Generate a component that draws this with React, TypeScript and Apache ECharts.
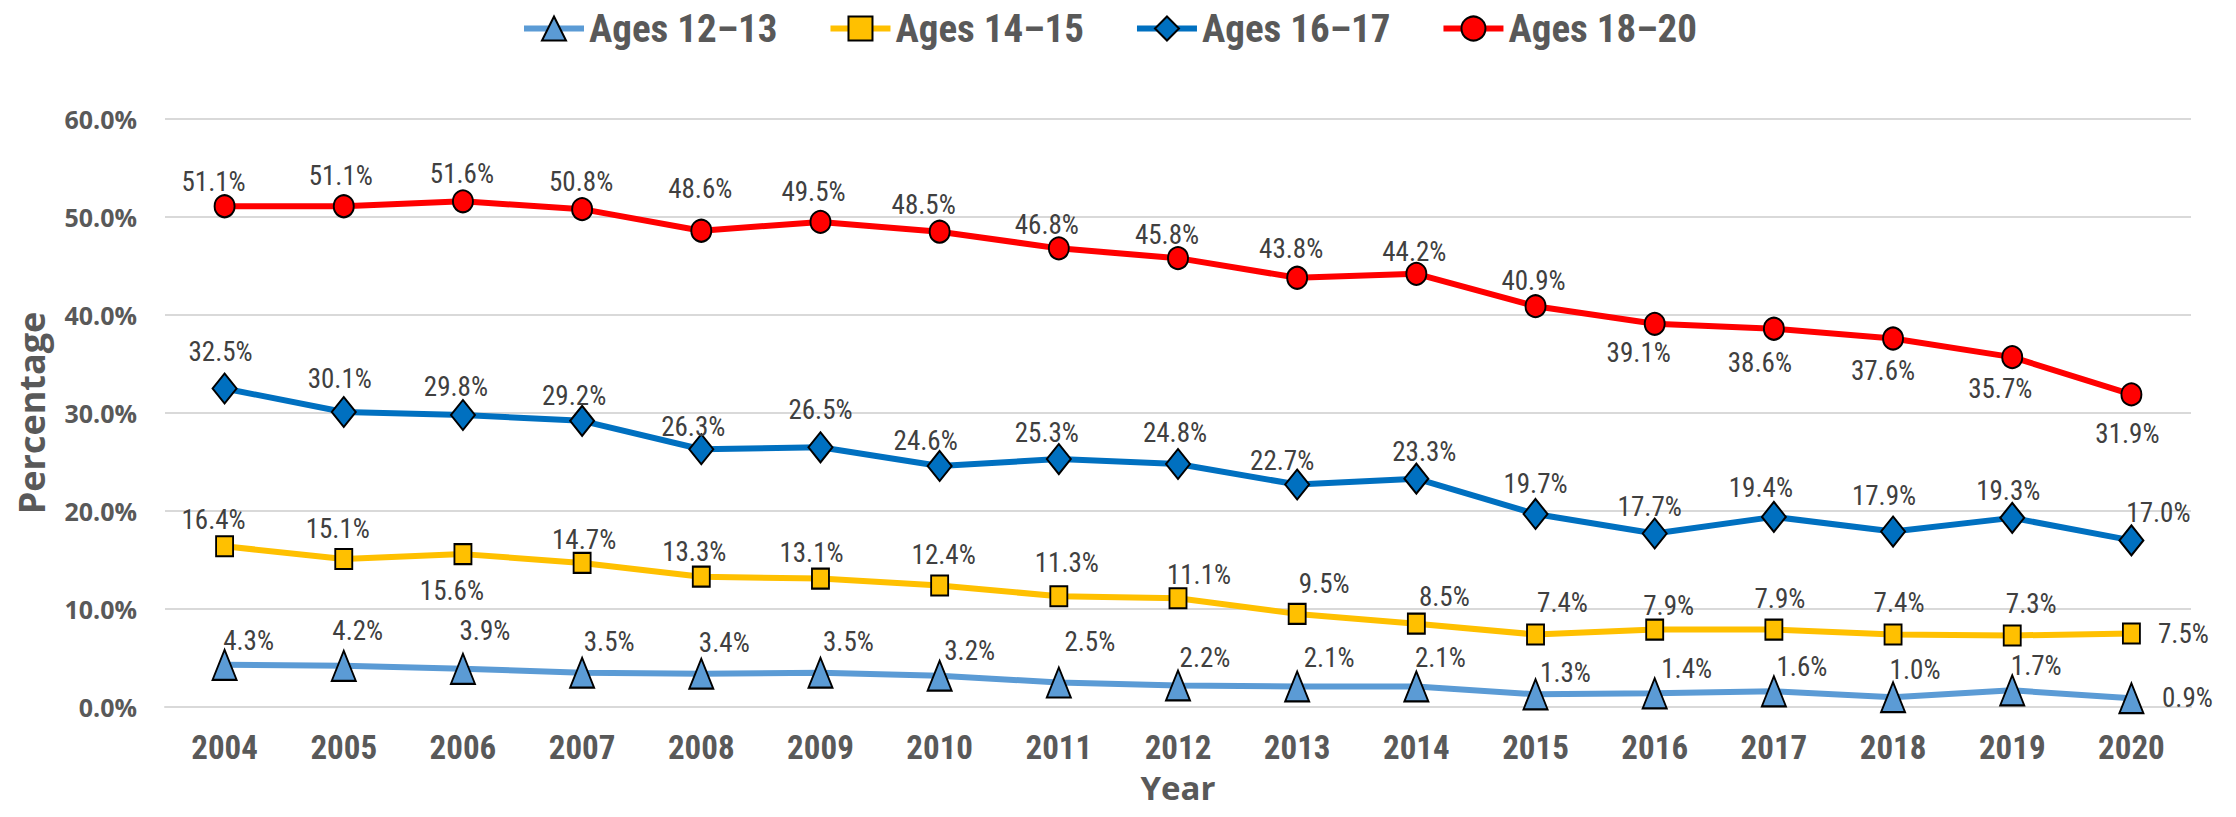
import React, { useEffect, useRef } from "react";
import * as echarts from "echarts";

const years = ["2004","2005","2006","2007","2008","2009","2010","2011","2012","2013","2014","2015","2016","2017","2018","2019","2020"];
const seriesNames = ["Ages 12–13", "Ages 14–15", "Ages 16–17", "Ages 18–20"];
const ages12to13 = [4.3,4.2,3.9,3.5,3.4,3.5,3.2,2.5,2.2,2.1,2.1,1.3,1.4,1.6,1.0,1.7,0.9];
const ages14to15 = [16.4,15.1,15.6,14.7,13.3,13.1,12.4,11.3,11.1,9.5,8.5,7.4,7.9,7.9,7.4,7.3,7.5];
const ages16to17 = [32.5,30.1,29.8,29.2,26.3,26.5,24.6,25.3,24.8,22.7,23.3,19.7,17.7,19.4,17.9,19.3,17.0];
const ages18to20 = [51.1,51.1,51.6,50.8,48.6,49.5,48.5,46.8,45.8,43.8,44.2,40.9,39.1,38.6,37.6,35.7,31.9];
const yTicks = { min: 0, max: 60, interval: 10 };

// label placement (style only), offsets from marker centre in px
const offs12 = [[24,-24],[14,-35],[22,-38],[27,-31],[23,-31],[28,-31],[30,-25],[31,-41],[27,-27],[32,-28],[24,-28],[30,-21],[32,-24],[28,-24],[22,-27],[24,-24],[56,0]];
const offs14 = [[-11,-26],[-6,-30],[-11,37],[2,-23],[-7,-25],[-9,-26],[4,-30],[8,-33],[21,-23],[27,-30],[28,-27],[27,-31],[14,-24],[6,-31],[6,-31],[19,-31],[52,0]];
const offs16 = [[-4,-37],[-4,-33],[-7,-28],[-8,-25],[-8,-22],[0,-37],[-14,-25],[-12,-26],[-3,-31],[-15,-24],[8,-27],[0,-30],[-5,-27],[-13,-29],[-9,-36],[-4,-27],[27,-27]];
const offs18 = [[-11,-24],[-3,-30],[-1,-27],[-1,-27],[-1,-42],[-7,-30],[-16,-27],[-12,-23],[-11,-23],[-6,-29],[-2,-22],[-2,-25],[-16,29],[-14,34],[-10,32],[-12,32],[-4,40]];

const NARROW = "'Liberation Sans Narrow', 'Roboto Condensed', 'Open Sans Condensed', 'Liberation Sans', sans-serif";
const WIDE = "'Open Sans', 'Noto Sans', sans-serif";
const GRAY = "#595959";

function makeSeries(name: string, values: number[], offs: number[][], color: string, symbol: string, size: number[]) {
  return {
    name,
    type: "line",
    data: values.map((v, i) => ({ value: v, label: { offset: offs[i] } })),
    symbol,
    symbolSize: size,
    lineStyle: { color, width: 6 },
    itemStyle: { color, borderColor: "#000000", borderWidth: 2 },
    label: {
      show: true,
      position: "inside",
      formatter: (p: any) => `${Number(p.value).toFixed(1)}%`,
      color: "#404040",
      fontFamily: NARROW,
      fontSize: 27,
    },
  };
}

export default function App() {
  const ref = useRef<HTMLDivElement>(null);
  useEffect(() => {
    document.body.style.margin = "0";
    const chart = echarts.init(ref.current!, null, { renderer: "svg" });
    chart.setOption({
      animation: false,
      backgroundColor: "#ffffff",
      legend: {
        top: 4,
        left: 516,
        itemWidth: 60,
        itemHeight: 30,
        itemGap: 50,
        data: seriesNames,
        lineStyle: { width: 6 },
        textStyle: { fontFamily: NARROW, fontWeight: "bold", fontSize: 39, color: GRAY },
      },
      grid: { left: 165, right: 45, top: 119, bottom: 110, outerBoundsMode: "none", containLabel: false },
      xAxis: {
        type: "category",
        data: years,
        boundaryGap: true,
        axisLine: { lineStyle: { color: "#D9D9D9", width: 2 } },
        axisTick: { show: false },
        axisLabel: { fontFamily: NARROW, fontWeight: "bold", fontSize: 33, color: GRAY, margin: 24 },
        name: "Year",
        nameLocation: "middle",
        nameGap: 64,
        nameTextStyle: { fontFamily: WIDE, fontWeight: "bold", fontSize: 33, lineHeight: 33, color: GRAY },
      },
      yAxis: {
        type: "value",
        min: yTicks.min,
        max: yTicks.max,
        interval: yTicks.interval,
        axisLine: { show: false },
        axisTick: { show: false },
        splitLine: { lineStyle: { color: "#D9D9D9", width: 2 } },
        axisLabel: {
          formatter: (v: number) => `${v.toFixed(1)}%`,
          fontFamily: WIDE,
          fontWeight: "bold",
          fontSize: 25,
          color: GRAY,
          margin: 28,
        },
        name: "Percentage",
        nameLocation: "middle",
        nameRotate: 90,
        nameGap: 116,
        nameTextStyle: { fontFamily: WIDE, fontWeight: "bold", fontSize: 36, color: GRAY },
      },
      series: [
        makeSeries(seriesNames[0], ages12to13, offs12, "#5B9BD5", "triangle", [24, 30]),
        makeSeries(seriesNames[1], ages14to15, offs14, "#FFC000", "rect", [17, 20]),
        makeSeries(seriesNames[2], ages16to17, offs16, "#0070C0", "diamond", [24, 30]),
        makeSeries(seriesNames[3], ages18to20, offs18, "#FF0000", "circle", [20, 22]),
      ],
    });
    return () => chart.dispose();
  }, []);
  return <div ref={ref} style={{ width: 2236, height: 817 }} />;
}
